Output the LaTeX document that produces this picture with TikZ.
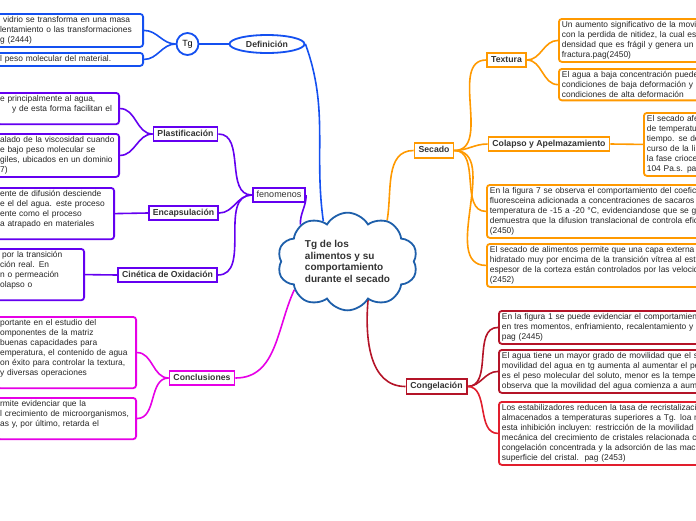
\documentclass[tikz,border=0pt]{standalone}
\usepackage{fontspec}
\setmainfont{Liberation Sans}
\usetikzlibrary{shapes.geometric, shapes.symbols, backgrounds}
\definecolor{defblue}{RGB}{20,80,240}
\definecolor{fenviolet}{RGB}{100,0,240}
\definecolor{conmag}{RGB}{230,0,230}
\definecolor{secorange}{RGB}{255,153,0}
\definecolor{congred}{RGB}{180,20,40}
\definecolor{congbright}{RGB}{225,30,45}
\definecolor{cloudblue}{RGB}{30,95,170}
\definecolor{labelgray}{RGB}{51,51,51}

\begin{document}
\begin{tikzpicture}[x=1pt, y=1pt,
    link/.style={line width=1.6pt},
    topic/.style={rectangle, draw, fill=white, line width=1.8pt, inner xsep=4pt, inner ysep=3pt,
      text height=6.4pt, text depth=1.9pt, font=\fontsize{8.7}{10}\selectfont\bfseries, text=labelgray},
    leaf/.style={rectangle, rounded corners=3pt, draw, fill=white, line width=1.8pt, inner xsep=3pt,
      inner ysep=2.6pt, align=left, font=\fontsize{8.4}{10}\selectfont, text=black!85},
    leafL/.style={leaf, anchor=north east, text width=#1},
    leafR/.style={leaf, anchor=north west, text width=300pt}]
    \useasboundingbox (0,0) rectangle (696,-520);
    \clip (0,0) rectangle (696,-520);

    % Nodes
    \node[cloud, cloud puffs=10, cloud puff arc=120, aspect=1.5, draw=cloudblue, fill=white,
      line width=1.8pt, minimum width=140pt, minimum height=96pt, inner sep=0pt, align=left,
      font=\fontsize{10}{11.4}\selectfont\bfseries, text=labelgray] (cloud) at (347.5,-261.5)
      {Tg de los\\alimentos y su\\comportamiento\\durante el secado};

    \node[ellipse, draw=defblue, fill=white, line width=1.8pt, minimum width=75pt, minimum height=18pt,
      inner sep=0pt, font=\fontsize{8.7}{10}\selectfont\bfseries, text=labelgray] (def) at (267,-44) {Definición};
    \node[circle, draw=defblue, fill=white, line width=1.8pt, minimum size=22pt, inner sep=0pt,
      font=\fontsize{9}{10}\selectfont] (tg) at (187.5,-44) {Tg};
    \node[leafL=140pt, draw=defblue] (tgA) at (144,-13)
      {\hspace*{3pt}vidrio se transforma en una masa\\lentamiento o las transformaciones\\g (2444)};
    \node[leafL=140pt, draw=defblue] (tgB) at (144,-52) {l peso molecular del material.};

    \node[topic, draw=fenviolet, font=\fontsize{9}{10}\selectfont] (fen) at (279,-195) {fenomenos};
    \node[topic, draw=fenviolet] (plast) at (185.5,-134) {Plastificación};
    \node[topic, draw=fenviolet] (encap) at (183.5,-213) {Encapsulación};
    \node[topic, draw=fenviolet] (cinet) at (167.5,-275) {Cinética de Oxidación};
    \node[leafL=116pt, draw=fenviolet] (plastA) at (120,-92)
      {e principalmente al agua,\\\hspace*{12pt}y de esta forma facilitan el\\\mbox{}};
    \node[leafL=116pt, draw=fenviolet] (plastB) at (120,-133)
      {alado de la viscosidad cuando\\e bajo peso molecular se\\giles, ubicados en un dominio\\7)};
    \node[leafL=111pt, draw=fenviolet] (encapA) at (115,-187)
      {ente de difusión desciende\\e el del agua. este proceso\\ente como el proceso\\a atrapado en materiales\\\mbox{}};
    \node[leafL=81pt, draw=fenviolet] (cinetA) at (85,-248)
      {\hspace*{2pt}por la transición\\ción real. En\\n o permeación\\olapso o\\\mbox{}};

    \node[topic, draw=conmag] (concl) at (202,-378) {Conclusiones};
    \node[leafL=133pt, draw=conmag] (conclA) at (137,-316)
      {portante en el estudio del\\omponentes de la matriz\\buenas capacidades para\\emperatura, el contenido de agua\\on éxito para controlar la textura,\\y diversas operaciones\\\mbox{}};
    \node[leafL=133pt, draw=conmag] (conclB) at (137,-397)
      {rmite evidenciar que la\\l crecimiento de microorganismos,\\as y, por último, retarda el\\\mbox{}};

    \node[topic, draw=secorange] (secado) at (434,-150.5) {Secado};
    \node[topic, draw=secorange] (textura) at (506.5,-60) {Textura};
    \node[topic, draw=secorange] (colapso) at (549,-144) {Colapso y Apelmazamiento};
    \node[leafR, draw=secorange] (texturaA) at (558,-18)
      {Un aumento significativo de la movi\\con la perdida de nitidez, la cual es\\densidad que es frágil y genera un\\fractura.pag(2450)};
    \node[leafR, draw=secorange] (texturaB) at (558,-68)
      {El agua a baja concentración puede\\condiciones de baja deformación y\\condiciones de alta deformación};
    \node[leafR, draw=secorange] (colapsoA) at (643,-112)
      {El secado afe\\de temperatu\\tiempo. se de\\curso de la li\\la fase crioce\\104 Pa.s. pa};
    \node[leafR, draw=secorange] (figA) at (486,-184)
      {En la figura 7 se observa el comportamiento del coefici\\fluoresceina adicionada a concentraciones de sacaros\\temperatura de -15 a -20 °C, evidenciandose que se g\\demuestra que la difusion translacional de controla efic\\(2450)};
    \node[leafR, draw=secorange] (secadoB) at (486,-243)
      {El secado de alimentos permite que una capa externa\\hidratado muy por encima de la transición vítrea al esta\\espesor de la corteza están controlados por las velocid\\(2452)};

    \node[topic, draw=congred] (congel) at (436.5,-386.5) {Congelación};
    \node[leafR, draw=congred] (congA) at (498,-310)
      {En la figura 1 se puede evidenciar el comportamien\\en tres momentos, enfriamiento, recalentamiento y\\pag (2445)};
    \node[leafR, draw=congred] (congB) at (498,-349)
      {El agua tiene un mayor grado de movilidad que el s\\movilidad del agua en tg aumenta al aumentar el pe\\es el peso molecular del soluto, menor es la temper\\observa que la movilidad del agua comienza a aum};
    \node[leafR, draw=congbright] (congC) at (498,-401)
      {Los estabilizadores reducen la tasa de recristalizaci\\almacenados a temperaturas superiores a Tg. loa m\\esta inhibición incluyen: restricción de la movilidad\\mecánica del crecimiento de cristales relacionada c\\congelación concentrada y la adsorción de las mac\\superficie del cristal.\ \ pag (2453)};

    % Edges
    \begin{scope}[on background layer]
    \begin{scope}[link]
    \draw[defblue] (def.east) to[out=-70, in=98] (cloud.121);
    \draw[defblue] (tg) -- (def);
    \draw[defblue] (tg.west) to[out=180, in=0] (tgA.east);
    \draw[defblue] (tg.west) to[out=180, in=0] (tgB.east);

    \draw[fenviolet] (fen.east) to[out=-90, in=92] (cloud.142);
    \draw[fenviolet] (fen.west) to[out=180, in=0] (plast.east);
    \draw[fenviolet] (fen.west) to[out=180, in=0] (encap.east);
    \draw[fenviolet] (fen.west) to[out=180, in=0] (cinet.east);
    \draw[fenviolet] (plast.west) to[out=180, in=0] (plastA.east);
    \draw[fenviolet] (plast.west) to[out=180, in=0] (plastB.east);
    \draw[fenviolet] (encap.west) -- (encapA.east);
    \draw[fenviolet] (cinet.west) -- (cinetA.east);

    \draw[conmag] (cloud.208) to[out=245, in=0] (concl.east);
    \draw[conmag] (concl.west) to[out=180, in=0] (conclA.east);
    \draw[conmag] (concl.west) to[out=180, in=0] (conclB.east);

    \draw[secorange] (cloud.46) to[out=80, in=180] (secado.west);
    \draw[secorange] (secado.east) to[out=0, in=180] (textura.west);
    \draw[secorange] (secado.east) to[out=0, in=180] (colapso.west);
    \draw[secorange] (secado.east) to[out=0, in=180] (figA.west);
    \draw[secorange] (secado.east) to[out=0, in=180] (secadoB.west);
    \draw[secorange] (textura.east) to[out=0, in=180] (texturaA.west);
    \draw[secorange] (textura.east) to[out=0, in=180] (texturaB.west);
    \draw[secorange] (colapso.east) -- (colapsoA.west);

    \draw[congred] (cloud.298) to[out=-95, in=180] (congel.west);
    \draw[congred] (congel.east) to[out=0, in=180] (congA.west);
    \draw[congred] (congel.east) to[out=0, in=180] (congB.west);
    \draw[congbright] (congel.east) to[out=0, in=180] (congC.west);
    \end{scope}
    \end{scope}
\end{tikzpicture}
\end{document}
